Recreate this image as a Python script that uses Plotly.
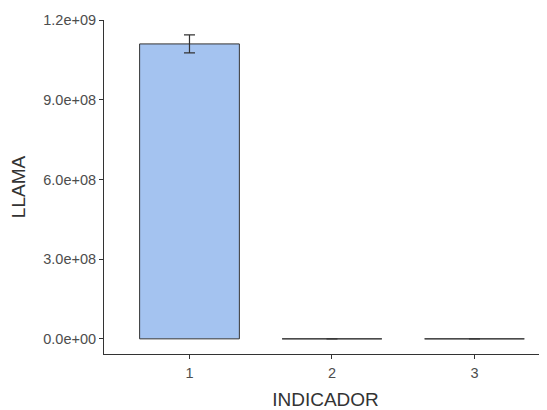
import plotly.graph_objects as go

categories = [1, 2, 3]
values = [1.11e9, 0.0, 0.0]
errors = [0.034e9, 0.0, 0.0]
tick_vals = [0, 3e8, 6e8, 9e8, 1.2e9]
tick_text = ["0.0e+00", "3.0e+08", "6.0e+08", "9.0e+08", "1.2e+09"]

fig = go.Figure()
fig.add_trace(go.Bar(
    x=categories, y=values, width=0.7,
    marker=dict(color="#A4C3F0", line=dict(color="#333333", width=1)),
    error_y=dict(type="data", array=errors, visible=True, color="#333333",
                 thickness=1.2, width=5.5),
))
fig.update_layout(
    width=539, height=402,
    margin=dict(l=96, r=0, t=12, b=56),
    plot_bgcolor="white", paper_bgcolor="white",
    showlegend=False,
    font=dict(family="Liberation Sans, Arial, sans-serif", color="#4d4d4d"),
    xaxis=dict(range=[0.4, 3.509], tickvals=categories, ticktext=[str(c) for c in categories],
               showline=True, linecolor="#333333", linewidth=1, ticks="outside",
               ticklen=4, tickcolor="#333333", showgrid=False, zeroline=False,
               ticklabelstandoff=2,
               tickfont=dict(size=14.5, color="#4d4d4d"),
               title=dict(text="INDICADOR", font=dict(size=19, color="#333333"), standoff=12)),
    yaxis=dict(range=[-0.057e9, 1.2e9], tickvals=tick_vals, ticktext=tick_text,
               showline=True, linecolor="#333333", linewidth=1, ticks="outside",
               ticklen=4, tickcolor="#333333", showgrid=False, zeroline=False,
               tickfont=dict(size=14.5, color="#4d4d4d"),
               title=dict(text="LLAMA", font=dict(size=19, color="#333333"), standoff=12)),
)
fig.write_html("out.html")
